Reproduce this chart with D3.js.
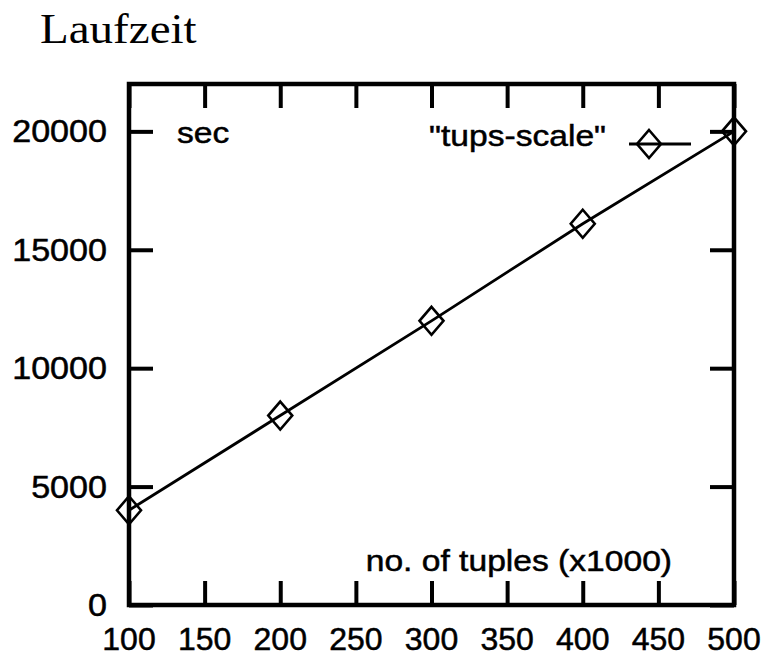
<!DOCTYPE html>
<html>
<head>
<meta charset="utf-8">
<script src="https://cdn.jsdelivr.net/npm/d3@7"></script>
<style>
  body { margin: 0; background: #fff; }
  svg { display: block; }
</style>
</head>
<body>
<div id="chart"></div>
<script>
// Laufzeit chart (tups-scale)
const tuples = [100, 200, 300, 400, 500];          // x1000
const seconds = [4000, 8000, 12000, 16100, 20000];
const xTicks = [100, 150, 200, 250, 300, 350, 400, 450, 500];
const yTicks = [0, 5000, 10000, 15000, 20000];
const seriesName = '"tups-scale"';

const width = 763, height = 657;
const margin = { top: 84, right: 29, bottom: 52, left: 129 };

const svg = d3.select('#chart').append('svg')
  .attr('width', width)
  .attr('height', height);

const x = d3.scaleLinear()
  .domain([100, 500])
  .range([margin.left, width - margin.right]);

const y = d3.scaleLinear()
  .domain([0, 22000])
  .range([height - margin.bottom, margin.top]);

const sans = '"Liberation Sans", Arial, Helvetica, sans-serif';

// helper for (slightly stretched) text, the scan is wider than the fonts
function label(txt, px, py, size, anchor, sx, family) {
  return svg.append('text')
    .attr('transform', `translate(${px},${py}) scale(${sx},1)`)
    .attr('text-anchor', anchor)
    .attr('font-family', family || sans)
    .attr('font-size', size)
    .attr('fill', '#000')
    .attr('stroke', family ? 'none' : '#000')
    .attr('stroke-width', 0.5)
    .text(txt);
}

// title
label('Laufzeit', 40, 43, 42, 'start', 1.12, '"Liberation Serif", "Times New Roman", serif');

// inward ticks on all four sides
const tick = 24;
const axes = [
  { ax: d3.axisBottom(x).tickValues(xTicks), t: `translate(0,${y(0)})` },
  { ax: d3.axisTop(x).tickValues(xTicks), t: `translate(0,${margin.top})` },
  { ax: d3.axisLeft(y).tickValues(yTicks), t: `translate(${margin.left},0)` },
  { ax: d3.axisRight(y).tickValues(yTicks), t: `translate(${width - margin.right},0)` }
];
axes.forEach(a => {
  const g = svg.append('g')
    .attr('transform', a.t)
    .call(a.ax.tickSize(-tick).tickFormat(''));
  g.select('.domain').remove();
  g.selectAll('line').attr('stroke', '#000').attr('stroke-width', 4);
});

// frame
svg.append('rect')
  .attr('x', margin.left)
  .attr('y', margin.top)
  .attr('width', width - margin.left - margin.right)
  .attr('height', height - margin.top - margin.bottom)
  .attr('fill', 'none')
  .attr('stroke', '#000')
  .attr('stroke-width', 4.5);

// tick labels
xTicks.forEach(v => label(v, x(v), 650, 32, 'middle', 1.0));
yTicks.forEach(v => label(v, 107, y(v) + 11, 31, 'end', 1.1));

// axis captions
label('sec', 177, 143, 30, 'start', 1.12);
label('no. of tuples (x1000)', 672, 571, 30, 'end', 1.12);

// data line
const data = tuples.map((t, i) => ({ t: t, s: seconds[i] }));
svg.append('path')
  .datum(data)
  .attr('fill', 'none')
  .attr('stroke', '#000')
  .attr('stroke-width', 2.8)
  .attr('d', d3.line().x(d => x(d.t)).y(d => y(d.s)));

const diamond = 'M0,-14L12,0L0,14L-12,0Z';
svg.selectAll('.pt')
  .data(data)
  .enter()
  .append('path')
  .attr('class', 'pt')
  .attr('transform', d => `translate(${x(d.t)},${y(d.s)})`)
  .attr('d', diamond)
  .attr('fill', 'none')
  .attr('stroke', '#000')
  .attr('stroke-width', 2.6);

// legend
label(seriesName, 606, 146, 30, 'end', 1.12);
svg.append('line')
  .attr('x1', 629).attr('x2', 691)
  .attr('y1', 144).attr('y2', 144)
  .attr('stroke', '#000')
  .attr('stroke-width', 2.8);
svg.append('path')
  .attr('transform', 'translate(649,144)')
  .attr('d', diamond)
  .attr('fill', 'none')
  .attr('stroke', '#000')
  .attr('stroke-width', 2.6);
</script>
</body>
</html>
